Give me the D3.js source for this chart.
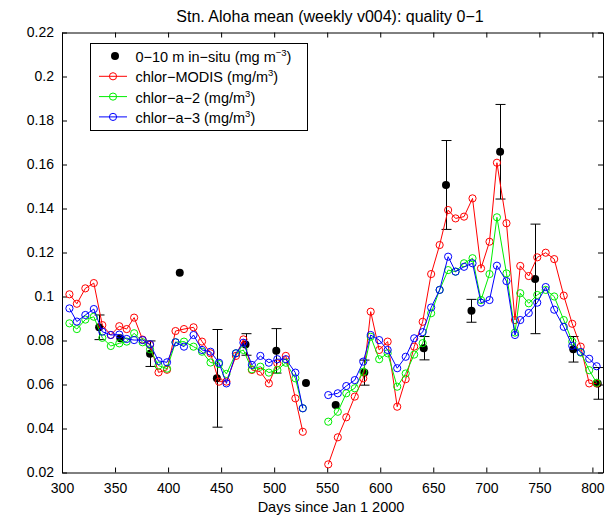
<!DOCTYPE html>
<html>
<head>
<meta charset="utf-8">
<script src="https://cdn.jsdelivr.net/npm/d3@7"></script>
<style>
  body { margin: 0; background: #fff; }
  svg text { font-family: "Liberation Sans", Arial, Helvetica, sans-serif; fill: #000; }
</style>
</head>
<body>
<div id="container"></div>
<script>
// weekly composites, days since Jan 1 2000 (null = no data that week)
var days = [307, 314, 322, 330, 338, 346, 354, 361, 368, 376, 383, 391, 399, 407, 415, 424, 432, 440, 448, 455,
            464, 471, 479, 487, 495, 503, 511, 520, 527, 535, 543,
            551, 560, 568, 576, 584, 591, 599, 607, 616, 624, 632, 640, 648, 656, 664, 671, 679, 687, 695, 703,
            710, 719, 727, 732, 740, 748, 756, 764, 773, 781, 789, 797, 804];

var chlorModis = [0.101, 0.0967, 0.1037, 0.1061, 0.087, 0.0825, 0.0865, 0.0852, 0.0904, 0.0804, 0.078, 0.0655, 0.0667, 0.0843, 0.0852, 0.086, 0.0795, 0.0742, 0.0613, 0.0613,
                  0.073, 0.0805, 0.0666, 0.0658, 0.0605, 0.0696, 0.073, 0.0537, 0.0385, null, null,
                  0.0237, 0.036, 0.0451, 0.0545, 0.0628, 0.0931, 0.0757, 0.0795, 0.0499, 0.0624, 0.0772, 0.0885, 0.1102, 0.1234, 0.1393, 0.1355, 0.1363, 0.1446, 0.1128, 0.1249,
                  0.1608, 0.1333, 0.0893, 0.1139, 0.1093, 0.1178, 0.1199, 0.117, 0.1004, 0.0876, 0.0772, 0.0605, 0.0605];

var chlorA2 = [0.0878, 0.0852, 0.0895, 0.0908, 0.0812, 0.0775, 0.0787, 0.0795, 0.0833, 0.0792, 0.076, 0.0686, 0.0672, 0.0792, 0.0795, 0.0772, 0.0749, 0.07, 0.0693, 0.0648,
               0.0742, 0.0757, 0.0669, 0.0681, 0.0654, 0.0666, 0.0699, 0.0628, 0.0492, null, null,
               0.0431, 0.0476, 0.056, 0.0583, 0.0658, 0.0817, 0.0715, 0.0742, 0.059, 0.065, 0.0736, 0.0788, 0.0924, 0.103, 0.112, 0.1113, 0.1151, 0.1174, 0.0984, 0.1102,
               0.136, 0.1105, 0.0836, 0.1015, 0.0969, 0.1007, 0.103, 0.1, 0.0893, 0.0795, 0.0745, 0.0665, 0.0608];

var chlorA3 = [0.0946, 0.0886, 0.0916, 0.0943, 0.084, 0.0825, 0.0827, 0.0807, 0.0802, 0.0802, 0.0783, 0.0707, 0.0701, 0.0792, 0.0772, 0.0825, 0.0757, 0.0749, 0.0699, 0.0605,
               0.0742, 0.079, 0.0689, 0.073, 0.0699, 0.0715, 0.0715, 0.0654, 0.0492, null, null,
               0.0552, 0.056, 0.0593, 0.062, 0.0704, 0.0825, 0.0802, 0.0757, 0.0674, 0.0726, 0.081, 0.0838, 0.095, 0.103, 0.1181, 0.1113, 0.1135, 0.1151, 0.0972, 0.0984,
               0.114, 0.107, 0.0825, 0.0893, 0.0925, 0.0972, 0.1043, 0.094, 0.0862, 0.0776, 0.0748, 0.0717, 0.0683];

// 0-10 m in-situ means and error bar half-widths
var insituDays = [335, 355, 383, 411, 446, 473, 502, 530, 558, 585, 641, 662, 686, 713, 746, 782, 805];
var insituVal  = [0.086, 0.081, 0.074, 0.1108, 0.0628, 0.0782, 0.0753, 0.0607, 0.0507, 0.0654, 0.0765, 0.1507, 0.0935, 0.1658, 0.108, 0.076, 0.0605];
var insituErr  = [0.0056, 0, 0.0058, 0, 0.0222, 0.0049, 0.0101, 0, 0, 0.0057, 0.0053, 0.0202, 0.0052, 0.0215, 0.0249, 0.0058, 0.0072];

var xTicks = [300, 350, 400, 450, 500, 550, 600, 650, 700, 750, 800];
var yTicks = [0.02, 0.04, 0.06, 0.08, 0.1, 0.12, 0.14, 0.16, 0.18, 0.2, 0.22];

var legendNames = ["0\u221210 m in\u2212situ (mg m", "chlor\u2212MODIS (mg/m", "chlor\u2212a\u22122 (mg/m", "chlor\u2212a\u22123 (mg/m"];
var legendSups = ["\u22123", "3", "3", "3"];

var svgWidth = 605, svgHeight = 516;
var plotLeft = 62, plotRight = 603, plotTop = 32.5, plotBottom = 472.5;
var fontSize = 14;

var svg = d3.select("#container").append("svg")
            .attr("width", svgWidth)
            .attr("height", svgHeight);

var x = d3.scaleLinear().domain([300, 810]).range([plotLeft, plotRight]);
var y = d3.scaleLinear().domain([0.02, 0.22]).range([plotBottom, plotTop]);

function fmt(v) { return String(+v.toFixed(2)); }

// axes: ticks point inward, box all round
svg.append("g")
   .attr("transform", "translate(0," + plotBottom + ")")
   .call(d3.axisBottom(x).tickValues(xTicks).tickFormat(fmt).tickSizeInner(-5).tickSizeOuter(0).tickPadding(11));
svg.append("g")
   .attr("transform", "translate(0," + plotTop + ")")
   .call(d3.axisTop(x).tickValues(xTicks).tickFormat("").tickSizeInner(-5).tickSizeOuter(0));
svg.append("g")
   .attr("transform", "translate(" + plotLeft + ",0)")
   .call(d3.axisLeft(y).tickValues(yTicks).tickFormat(fmt).tickSizeInner(-5).tickSizeOuter(0).tickPadding(8));
svg.append("g")
   .attr("transform", "translate(" + plotRight + ",0)")
   .call(d3.axisRight(y).tickValues(yTicks).tickFormat("").tickSizeInner(-5).tickSizeOuter(0));

svg.selectAll(".tick text")
   .style("font-size", fontSize + "px")
   .style("font-family", "'Liberation Sans', Arial, sans-serif");
svg.selectAll(".domain, .tick line").attr("stroke", "#000");

// in-situ error bars and dots
var insitu = insituDays.map(function(d, i) { return {d: d, v: insituVal[i], e: insituErr[i]}; });
var bars = svg.append("g").attr("stroke", "#000").attr("stroke-width", 1);
insitu.filter(function(p) { return p.e > 0; }).forEach(function(p) {
  var cx = Math.round(x(p.d)) + 0.5;
  bars.append("line").attr("x1", cx).attr("x2", cx).attr("y1", y(p.v - p.e)).attr("y2", y(p.v + p.e));
  bars.append("line").attr("x1", cx - 5).attr("x2", cx + 5).attr("y1", y(p.v - p.e)).attr("y2", y(p.v - p.e));
  bars.append("line").attr("x1", cx - 5).attr("x2", cx + 5).attr("y1", y(p.v + p.e)).attr("y2", y(p.v + p.e));
});
svg.append("g").selectAll("circle")
   .data(insitu)
   .enter()
   .append("circle")
   .attr("cx", function(p) { return x(p.d); })
   .attr("cy", function(p) { return y(p.v); })
   .attr("r", 4)
   .attr("fill", "#000");

// satellite series
var series = [
  {values: chlorModis, color: "#ff0000"},
  {values: chlorA2, color: "#00ee00"},
  {values: chlorA3, color: "#0000ff"}
];

var line = d3.line()
             .defined(function(p) { return p.v != null; })
             .x(function(p) { return x(p.d); })
             .y(function(p) { return y(p.v); });

series.forEach(function(s) {
  var pts = days.map(function(d, i) { return {d: d, v: s.values[i]}; });
  svg.append("path")
     .datum(pts)
     .attr("d", line)
     .attr("fill", "none")
     .attr("stroke", s.color)
     .attr("stroke-width", 1);
  svg.append("g").selectAll("circle")
     .data(pts.filter(function(p) { return p.v != null; }))
     .enter()
     .append("circle")
     .attr("cx", function(p) { return x(p.d); })
     .attr("cy", function(p) { return y(p.v); })
     .attr("r", 3.6)
     .attr("fill", "none")
     .attr("stroke", s.color)
     .attr("stroke-width", 1);
});

// legend
var lg = svg.append("g");
lg.append("rect")
  .attr("x", 90.5).attr("y", 43.5)
  .attr("width", 217).attr("height", 87)
  .attr("fill", "#fff").attr("stroke", "#000");

var legendColors = ["#000", "#ff0000", "#00ee00", "#0000ff"];
legendNames.forEach(function(name, i) {
  var ly = 56 + i * 20.3;
  if (i === 0) {
    lg.append("circle").attr("cx", 115).attr("cy", ly).attr("r", 4).attr("fill", "#000");
  } else {
    lg.append("line").attr("x1", 99).attr("x2", 127).attr("y1", ly).attr("y2", ly)
      .attr("stroke", legendColors[i]).attr("stroke-width", 1);
    lg.append("circle").attr("cx", 113).attr("cy", ly).attr("r", 3.6)
      .attr("fill", "none").attr("stroke", legendColors[i]);
  }
  var t = lg.append("text")
            .attr("x", 135.5)
            .attr("y", ly + 6)
            .style("font-size", "14.5px");
  t.append("tspan").text(name);
  t.append("tspan").attr("dy", -6).style("font-size", "9.5px").text(legendSups[i]);
  t.append("tspan").attr("dy", 6).text(")");
});

// title and axis label
svg.append("text")
   .attr("x", 330)
   .attr("y", 22)
   .attr("text-anchor", "middle")
   .style("font-size", "16px")
   .text("Stn. Aloha mean (weekly v004): quality 0\u22121");

svg.append("text")
   .attr("x", 331)
   .attr("y", 512)
   .attr("text-anchor", "middle")
   .style("font-size", "14.5px")
   .text("Days since Jan 1 2000");
</script>
</body>
</html>
